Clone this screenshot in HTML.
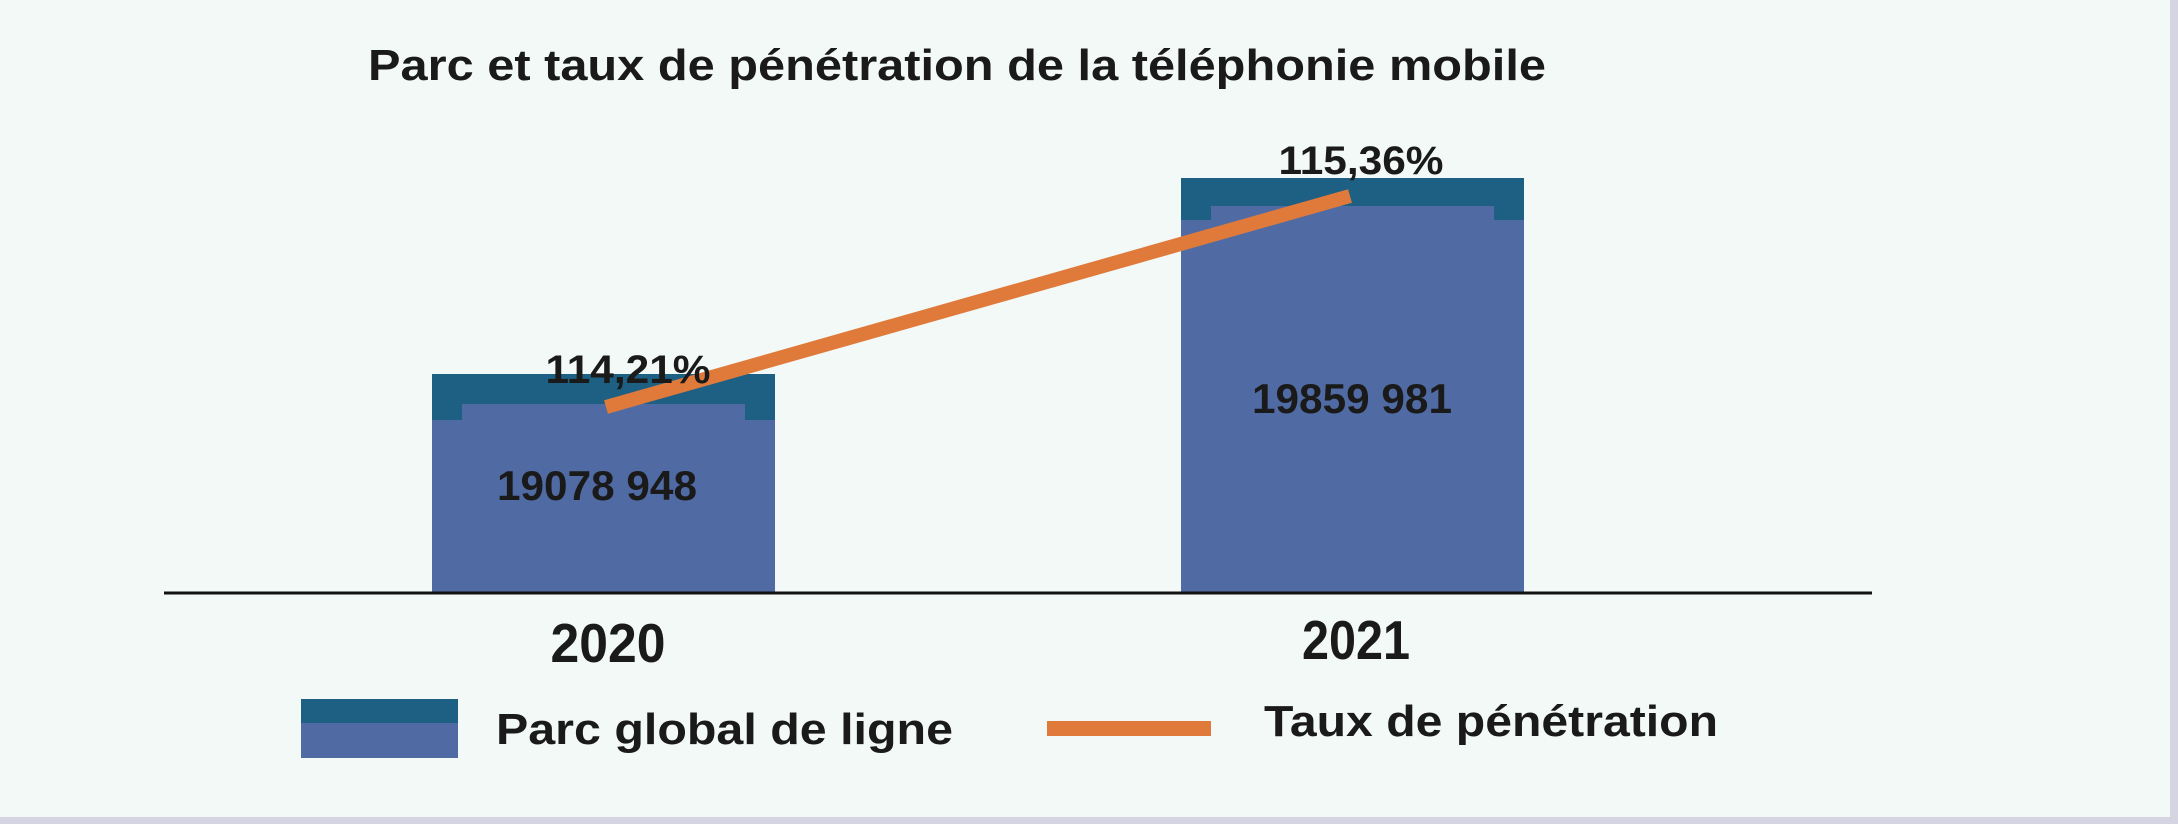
<!DOCTYPE html>
<html><head><meta charset="utf-8"><style>
html,body{margin:0;padding:0;background:#f2f9f7;}
svg{display:block;}
text{font-family:"Liberation Sans",sans-serif;font-weight:bold;fill:#1a1a1a;}
</style></head><body>
<svg width="2178" height="824" viewBox="0 0 2178 824" xmlns="http://www.w3.org/2000/svg">
<rect x="0" y="0" width="2178" height="824" fill="#f2f9f7"/>
<rect x="2170" y="0" width="8" height="824" fill="#d4d4e2"/>
<rect x="0" y="817" width="2178" height="7" fill="#d4d4e2"/>
<text x="368" y="80" font-size="44" textLength="1178" lengthAdjust="spacingAndGlyphs">Parc et taux de pénétration de la téléphonie mobile</text>
<rect x="432" y="374" width="343" height="219" fill="#506ba3"/>
<rect x="432" y="374" width="343" height="46" fill="#1e5f84"/>
<rect x="462" y="404" width="283" height="20" fill="#506ba3"/>
<rect x="1181" y="178" width="343" height="415" fill="#506ba3"/>
<rect x="1181" y="178" width="343" height="42" fill="#1e5f84"/>
<rect x="1211" y="206" width="283" height="18" fill="#506ba3"/>
<line x1="164" y1="593" x2="1872" y2="593" stroke="#111" stroke-width="3"/>
<line x1="606" y1="407" x2="1350" y2="196" stroke="#e07a3a" stroke-width="14"/>
<text x="628" y="383" font-size="40" text-anchor="middle" textLength="165" lengthAdjust="spacingAndGlyphs">114,21%</text>
<text x="1361" y="174" font-size="40" text-anchor="middle" textLength="165" lengthAdjust="spacingAndGlyphs">115,36%</text>
<text x="597" y="500" font-size="42" text-anchor="middle" textLength="200" lengthAdjust="spacingAndGlyphs">19078 948</text>
<text x="1352" y="413" font-size="42" text-anchor="middle" textLength="200" lengthAdjust="spacingAndGlyphs">19859 981</text>
<text x="608" y="662" font-size="55" text-anchor="middle" textLength="115" lengthAdjust="spacingAndGlyphs">2020</text>
<text x="1356" y="659" font-size="55" text-anchor="middle" textLength="108" lengthAdjust="spacingAndGlyphs">2021</text>
<rect x="301" y="699" width="157" height="59" fill="#506ba3"/>
<rect x="301" y="699" width="157" height="24" fill="#1e5f84"/>
<text x="496" y="744" font-size="44" textLength="457" lengthAdjust="spacingAndGlyphs">Parc global de ligne</text>
<rect x="1047" y="721" width="164" height="15" fill="#e07a3a"/>
<text x="1264" y="736" font-size="44" textLength="454" lengthAdjust="spacingAndGlyphs">Taux de pénétration</text>
</svg>
</body></html>
